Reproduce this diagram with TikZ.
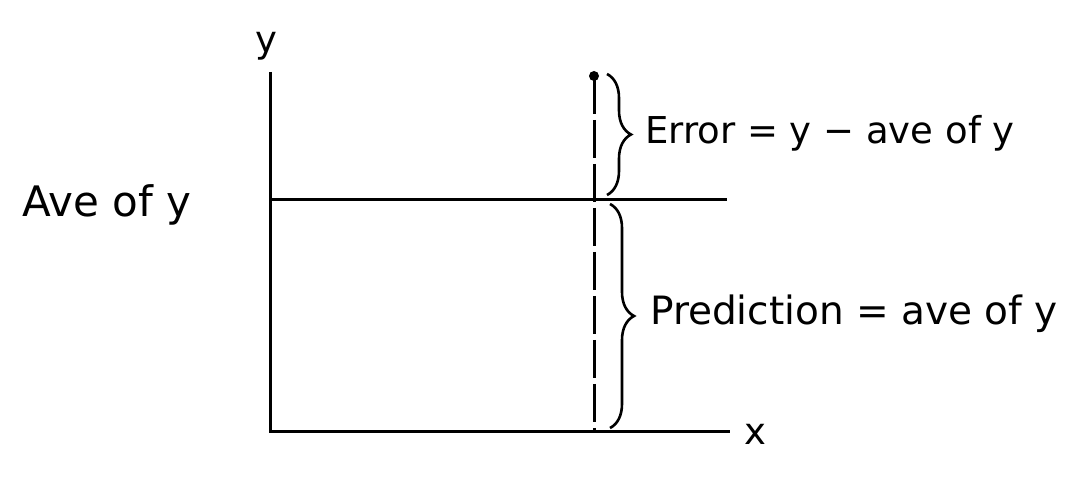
\documentclass[tikz,border=0pt]{standalone}
\usepackage{fontspec}
\setmainfont{DejaVu Sans}
\usetikzlibrary{decorations.pathreplacing}
\begin{document}
\begin{tikzpicture}[x=1pt,y=-1pt,
  axis/.style={line width=3pt},
  lbl/.style={font=\fontsize{37}{44}\selectfont, inner sep=0pt},
  bracestyle/.style={line width=2.6pt, decorate, decoration={brace, amplitude=24pt, aspect=0.5}},
  dashline/.style={line width=3pt, dash pattern=on 38pt off 6pt}]
\useasboundingbox (0,0) rectangle (1088,478);
% axes
\coordinate (O) at (270,432);
\coordinate (ytop) at (270,72);
\coordinate (xend) at (730,432);
\coordinate (aveL) at (270,200);
\coordinate (aveR) at (727,200);
\draw[axis] (ytop) -- (O) -- (xend);
\draw[axis] (aveL) -- (aveR);
% dashed vertical
\coordinate (ptop) at (594,76);
\coordinate (pbot) at (594,432);
\draw[dashline] (ptop) -- (pbot);
\fill (ptop) circle (5pt);
% braces
\coordinate (e1) at (607,74);
\coordinate (e2) at (607,195);
\coordinate (p1) at (610,204);
\coordinate (p2) at (610,428);
\draw[bracestyle] (e1) -- (e2);
\draw[bracestyle] (p1) -- (p2);
% labels
\node[lbl, anchor=south] (ylab) at (266,60) {y};
\node[lbl, anchor=west] (xlab) at (744,434) {x};
\node[lbl, anchor=west, font=\fontsize{42}{48}\selectfont] (ave) at (22,205) {Ave of y};
\node[lbl, anchor=west] (err) at (645,133) {Error = y − ave of y};
\node[lbl, anchor=west, font=\fontsize{39}{46}\selectfont] (pred) at (650,314) {Prediction = ave of y};
\end{tikzpicture}
\end{document}
